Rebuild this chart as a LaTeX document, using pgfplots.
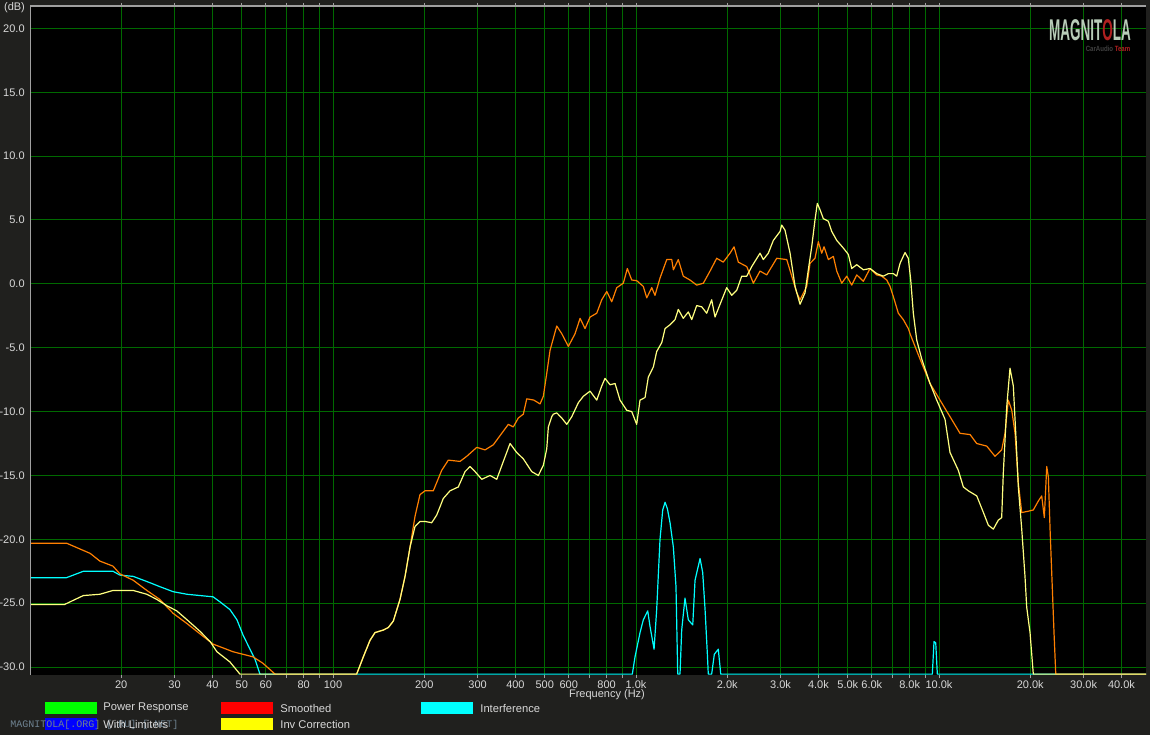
\documentclass[border=0pt]{standalone}
\usepackage{pgfplots}
\usepackage{pgfplotstable}
\pgfplotsset{compat=1.18}
\usepackage{fontspec}
\setmainfont{Liberation Sans}
\newfontfamily\monofont{Liberation Mono}

\definecolor{bgcol}{HTML}{20201E}
\definecolor{gridgreen}{RGB}{0,105,0}
\definecolor{framegray}{HTML}{A0A0A0}
\definecolor{labelgray}{HTML}{D8D8D8}
\definecolor{smoothorange}{HTML}{FF8000}
\definecolor{invyellow}{HTML}{FFFF80}
\definecolor{intercyan}{HTML}{00FFFF}
\definecolor{keygreen}{HTML}{00FF00}
\definecolor{keyblue}{HTML}{0000FF}
\definecolor{keyred}{HTML}{FF0000}
\definecolor{keyyellow}{HTML}{FFFF00}
\definecolor{wmgray}{HTML}{6E8290}
\definecolor{logogray}{HTML}{B8CCB8}
\definecolor{logored}{HTML}{B02020}

% smoothed response (orange)
\pgfplotstableread{
f db
10 -20.3
13.2 -20.3
15.8 -21.1
17.0 -21.7
18.8 -22.1
19.8 -22.7
21.9 -23.2
24.3 -24.0
26.8 -24.7
29.7 -25.8
33.0 -26.6
36.4 -27.4
40.2 -28.2
46.8 -28.8
54.5 -29.2
58.7 -29.7
64.4 -30.55
119.7 -30.55
125.9 -29.2
132.5 -27.9
137.6 -27.3
146.6 -27.1
152.3 -26.9
158.1 -26.4
166.4 -24.7
172.9 -22.9
179.6 -20.6
186.5 -18.2
193.7 -16.5
201.2 -16.2
214.3 -16.2
228.4 -14.6
240.2 -13.8
262.5 -13.9
276.3 -13.5
298.2 -12.8
317.6 -13.0
338.1 -12.6
360.5 -11.7
379.0 -11.0
393.6 -11.2
408.9 -10.5
424.7 -10.2
435.9 -9.0
460.0 -9.1
482.3 -9.4
494.5 -8.8
507.5 -7.0
520.4 -5.2
547.5 -3.3
568.7 -3.9
598.1 -4.9
629.3 -3.9
653.7 -2.7
678.9 -3.5
705.2 -2.6
742.0 -2.3
770.7 -1.25
800.6 -0.6
831.6 -1.4
863.7 -0.3
908.1 0.05
936.2 1.2
967.9 0.3
1005 0.25
1057 -0.2
1085 -1.1
1127 -0.3
1155 -0.9
1200 0.45
1263 1.9
1312 1.9
1328 1.1
1379 1.9
1432 0.6
1507 0.3
1586 -0.1
1668 0.05
1755 1.0
1846 2.0
1941 1.7
2043 2.4
2106 2.9
2176 1.7
2320 1.35
2439 0.05
2566 1.0
2700 0.7
2914 2.0
3144 1.9
3266 0.6
3392 -0.7
3478 -1.25
3660 -0.2
3752 1.6
3897 2.0
3997 3.3
4101 2.4
4174 2.9
4313 1.9
4480 2.15
4597 1.0
4775 0.05
4960 0.6
5151 -0.1
5351 0.7
5627 0.2
5921 1.2
6229 0.7
6469 0.6
6720 0.3
6892 -0.2
7067 -1.0
7340 -2.3
7624 -2.8
7920 -3.5
8022 -3.9
8659 -5.9
9339 -7.8
10076 -9.1
10871 -10.4
11730 -11.7
12660 -11.8
13320 -12.5
14370 -12.7
15300 -13.5
16100 -13.0
16510 -11.7
16930 -9.1
17380 -9.9
17820 -11.7
18270 -15.6
18750 -17.9
19710 -17.8
20470 -17.7
21270 -17.0
21820 -16.6
22260 -18.3
22670 -14.3
22950 -15.1
23250 -19.2
23730 -24.7
23960 -27.3
24280 -30.55
48200 -30.55
}\smoothed

% inverse correction (yellow)
\pgfplotstableread{
f db
10 -25.1
13.0 -25.1
15.0 -24.4
17.0 -24.3
18.8 -24.0
21.9 -24.0
24.3 -24.3
26.2 -24.7
28.3 -25.2
30.5 -25.6
33.0 -26.3
36.4 -27.2
39.3 -28.0
41.4 -28.8
45.7 -29.6
49.3 -30.55
119.7 -30.55
125.9 -29.2
132.5 -27.9
137.6 -27.3
146.6 -27.1
152.3 -26.9
158.1 -26.4
166.4 -24.7
172.9 -22.9
179.6 -20.6
186.5 -19.0
193.7 -18.6
201.2 -18.6
211.7 -18.7
219.9 -18.1
231.2 -16.8
243.3 -16.2
259.1 -15.9
272.7 -14.7
283.3 -14.3
294.3 -14.7
309.7 -15.3
329.8 -15.0
347.0 -15.3
364.9 -13.9
383.9 -12.5
403.9 -13.2
424.7 -13.7
452.8 -14.7
476.1 -15.0
494.5 -14.2
507.5 -12.9
513.7 -11.2
527.1 -10.4
533.6 -10.2
547.5 -10.1
568.7 -10.5
590.8 -11.0
613.7 -10.4
645.3 -9.3
670.2 -8.8
705.2 -8.4
742.0 -9.1
770.7 -8.0
790.3 -7.4
820.9 -7.9
852.7 -7.8
885.6 -9.1
931.9 -9.9
967.9 -10.0
1005 -11.0
1031 -9.1
1071 -8.9
1098 -7.3
1141 -6.5
1170 -5.3
1216 -4.6
1247 -3.5
1295 -3.2
1345 -2.8
1379 -2.0
1432 -2.7
1488 -2.2
1527 -2.8
1586 -1.7
1648 -1.8
1711 -2.3
1777 -1.25
1823 -2.6
1894 -1.6
1992 -0.3
2070 -0.9
2150 -0.5
2233 0.6
2320 0.6
2409 1.35
2566 2.4
2631 1.9
2733 2.4
2839 3.4
2988 4.1
3026 4.6
3103 4.2
3224 2.4
3349 -0.2
3478 -1.6
3613 -0.7
3704 1.1
3801 2.9
3897 5.0
3966 6.3
4049 5.8
4152 5.1
4313 4.9
4426 4.1
4597 3.4
4834 2.8
5020 2.3
5151 1.2
5351 1.5
5627 1.1
5921 1.2
6229 0.8
6549 0.6
6803 0.8
7067 0.8
7251 0.6
7436 1.6
7723 2.45
7920 2.0
8065 0.3
8226 -2.3
8441 -4.4
8772 -5.9
9339 -7.8
9826 -9.1
10466 -10.6
10871 -13.2
11580 -14.6
12030 -15.9
12490 -16.2
13320 -16.6
14010 -17.9
14550 -18.9
15110 -19.2
15690 -18.5
16100 -18.3
16300 -14.8
16730 -9.6
17150 -6.6
17590 -8.0
17960 -12.2
18270 -15.9
18750 -19.2
19220 -22.9
19470 -25.3
19970 -27.3
20470 -30.55
48200 -30.55
}\invcorr

% interference (cyan)
\pgfplotstableread{
f db
10 -23.0
13.2 -23.0
15.0 -22.5
18.8 -22.5
19.8 -22.8
21.9 -22.9
24.3 -23.3
26.8 -23.7
29.7 -24.1
33.0 -24.3
36.4 -24.4
40.2 -24.5
42.4 -24.9
45.7 -25.5
48.2 -26.3
50.5 -27.5
53.2 -28.6
55.3 -29.4
57.4 -30.55
972.3 -30.55
992.4 -29.2
1031 -27.3
1057 -26.3
1093 -25.6
1112 -26.8
1147 -28.6
1170 -25.5
1200 -20.0
1225 -17.7
1247 -17.1
1269 -17.6
1295 -18.7
1328 -20.6
1355 -23.7
1373 -30.55
1397 -30.55
1415 -27.1
1451 -24.6
1488 -26.3
1539 -26.7
1566 -23.2
1627 -21.5
1660 -22.6
1690 -25.5
1719 -28.9
1732 -30.55
1777 -30.55
1813 -29.0
1869 -28.6
1904 -30.55
9504 -30.55
9627 -28.0
9752 -28.1
9872 -30.55
48200 -30.55
}\interference

\begin{document}
\begin{tikzpicture}
\path[use as bounding box, fill=bgcol] (-15pt,-30pt) rectangle (560pt,337.5pt);
\begin{axis}[
    at={(0,0)}, anchor=south west,
    scale only axis,
    width=558pt, height=334.5pt,
    xmode=log,
    xmin=10, xmax=48200,
    ymin=-30.62, ymax=21.75,
    axis background/.style={fill=black},
    axis line style={draw=none},
    xtick={20,30,40,50,60,70,80,90,100,200,300,400,500,600,700,800,900,1000,2000,3000,4000,5000,6000,7000,8000,9000,10000,20000,30000,40000},
    xticklabels={20,30,40,50,60,{},80,{},100,200,300,400,500,600,{},800,{},1.0k,2.0k,3.0k,4.0k,5.0k,6.0k,{},8.0k,{},10.0k,20.0k,30.0k,40.0k},
    minor xtick={},
    ytick={-30,-25,...,20},
    yticklabels={-30.0,-25.0,-20.0,-15.0,-10.0,-5.0,0.0,5.0,10.0,15.0,20.0},
    xmajorgrids, ymajorgrids,
    x grid style={color=gridgreen, line width=0.5pt},
    y grid style={color=gridgreen, line width=0.5pt},
    major grid style={color=gridgreen, line width=0.5pt},
    tick align=outside,
    major tick length=1.5pt,
    xtick style={color=framegray, line width=0.5pt},
    ytick style={color=bgcol},
    xticklabel style={font=\fontsize{5.5}{6}\selectfont, text=labelgray, inner sep=1pt},
    yticklabel style={font=\fontsize{5.5}{6}\selectfont, text=labelgray, inner sep=1pt},
    every axis plot/.append style={line width=0.6pt, line join=round},
]
\addplot[intercyan] table[x=f, y=db] {\interference};
\addplot[smoothorange] table[x=f, y=db] {\smoothed};
\addplot[invyellow] table[x=f, y=db] {\invcorr};
\draw[framegray, line width=0.8pt] (rel axis cs:0,0) -- (rel axis cs:0,1) -- (rel axis cs:1,1);
\end{axis}

% axis captions
\node[font=\fontsize{5.5}{6}\selectfont, text=labelgray] at (-7.75pt,333.5pt) {(dB)};
\node[font=\fontsize{5.5}{6}\selectfont, text=labelgray] at (288.5pt,-9.6pt) {Frequency (Hz)};

% logo
\node[xscale=0.45, font=\fontsize{15}{15}\selectfont\bfseries, text=logogray] at (530pt,322.5pt) {MAGNIT\textcolor{logored}{O}LA};
\node[xscale=0.8, font=\fontsize{3.8}{4}\selectfont\bfseries] at (539pt,313.2pt) {\textcolor{darkgray}{CarAudio} \textcolor{logored}{Team}};

% legend
\fill[keygreen] (7.5pt,-13.5pt) rectangle (33.5pt,-19.5pt);
\fill[keyblue] (7.5pt,-21.5pt) rectangle (33.5pt,-27.5pt);
\fill[keyred] (95.5pt,-13.5pt) rectangle (121.5pt,-19.5pt);
\fill[keyyellow] (95.5pt,-21.5pt) rectangle (121.5pt,-27.5pt);
\fill[intercyan] (195.5pt,-13.5pt) rectangle (221.5pt,-19.5pt);
\node[anchor=west, inner sep=0pt, font=\monofont\fontsize{5}{5}\selectfont, text=wmgray] at (-10pt,-24.8pt) {MAGNITOLA[.ORG] [.RU] [.NET]};
\begin{scope}[every node/.style={anchor=west, inner sep=0pt, font=\fontsize{5.6}{6}\selectfont, text=labelgray}]
\node at (36.5pt,-16.5pt) {Power Response};
\node at (36.5pt,-24.5pt) {With Limiters};
\node at (125pt,-16.8pt) {Smoothed};
\node at (125pt,-24.8pt) {Inv Correction};
\node at (225pt,-16.5pt) {Interference};
\end{scope}
\end{tikzpicture}
\end{document}
